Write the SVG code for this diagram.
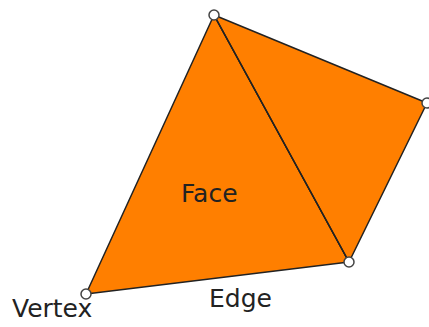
<svg xmlns="http://www.w3.org/2000/svg" width="429" height="327" viewBox="0 0 429 327">
<style>
.face{fill:#ff7f00;stroke:#222;stroke-width:1.5;stroke-linejoin:round}
.edge{stroke:#222;stroke-width:1.5;fill:none}
.v{fill:#fff;stroke:#444;stroke-width:1.5}
text{font-family:"DejaVu Sans",sans-serif;font-size:25px;fill:#222}
</style>
<rect width="429" height="327" fill="#fff"/>
<g id="faces">
<polygon class="face" points="214,15 349,262 86,294"/>
<polygon class="face" points="214,15 427,103 349,262"/>
</g>
<g id="connectors">
<line class="edge" x1="214" y1="15" x2="349" y2="262"/>
</g>
<g id="vertices">
<circle class="v" cx="214" cy="15" r="5"/>
<circle class="v" cx="427" cy="103" r="5"/>
<circle class="v" cx="349" cy="262" r="5"/>
<circle class="v" cx="86" cy="294" r="5"/>
</g>
<g id="labels">
<text x="181" y="202">Face</text>
<text x="12" y="317">Vertex</text>
<text x="209" y="307">Edge</text>
</g>
</svg>
